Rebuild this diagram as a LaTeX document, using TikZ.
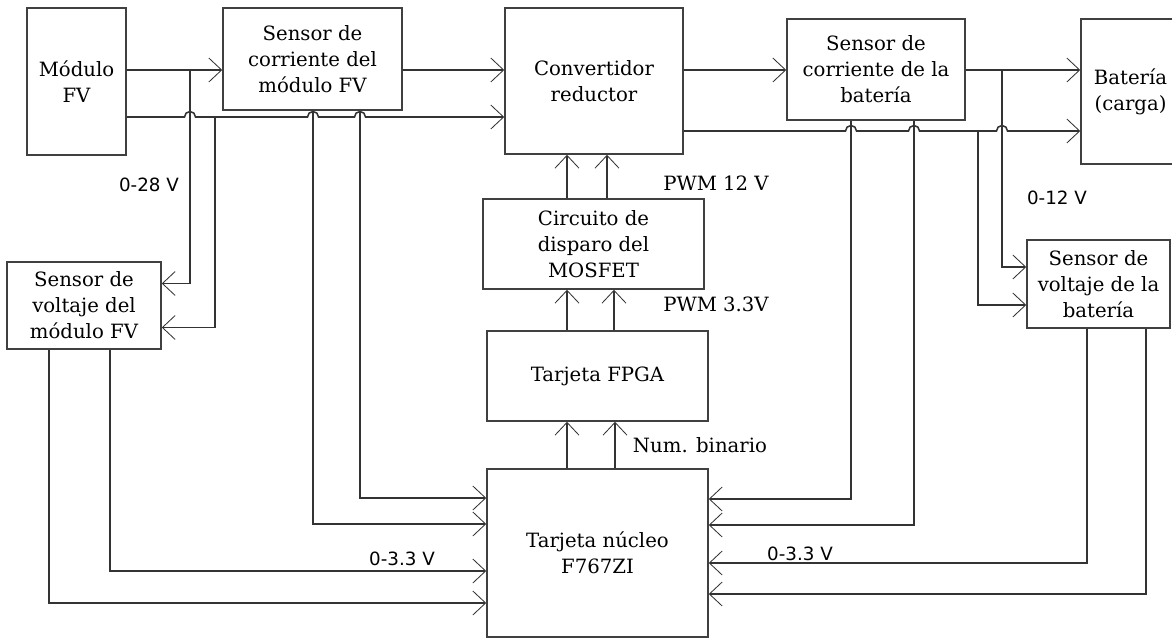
\documentclass[tikz,border=0pt]{standalone}
\usepackage{fontspec}
\setmainfont{DejaVu Serif}
\newfontfamily\lblsans{DejaVu Sans}
\usetikzlibrary{arrows.meta, calc}

\begin{document}
\begin{tikzpicture}[
  x=0.025cm, y=-0.025cm,
  blk/.style 2 args={
    rectangle, draw=black!75, line width=1.1pt,
    minimum width=#1*0.025cm, minimum height=#2*0.025cm,
    font=\fontsize{14}{18.5}\selectfont, align=center, inner sep=1pt
  },
  wire/.style={line width=1.1pt, color=black!80},
  arr/.style={wire, -{Straight Barb[length=3.2mm, width=6mm, line width=0.6pt]}},
  lbl/.style={font=\fontsize{14}{16}\selectfont, inner sep=0pt},
  vlbl/.style={font=\lblsans\fontsize{13}{15}\selectfont, inner sep=0pt},
]
\path[use as bounding box, fill=white] (0,0) rectangle (1172,638);

% Blocks
\node[blk={99}{147}] (modfv) at (76.5,81.5) {Módulo\\FV};
\node[blk={179}{102}] (senfv) at (312.5,59) {Sensor de\\corriente del\\módulo FV};
\node[blk={178}{146}] (conv) at (594,81) {Convertidor\\reductor};
\node[blk={178}{101}] (senbat) at (876,69.5) {Sensor de\\corriente de la\\batería};
\node[blk={99}{145}] (bat) at (1130.5,91.5) {Batería\\(carga)};
\node[blk={221}{90}] (disparo) at (593.5,244) {Circuito de\\disparo del\\MOSFET};
\node[blk={221}{90}] (fpga) at (597.5,376) {Tarjeta FPGA};
\node[blk={221}{168}] (nucleo) at (597.5,553) {Tarjeta núcleo\\F767ZI};
\node[blk={154}{87}] (svfv) at (84,305.5) {Sensor de\\voltaje del\\módulo FV};
\node[blk={143}{88}] (svbat) at (1098.5,284) {Sensor de\\voltaje de la\\batería};

% Rows and junctions
\coordinate (rowT) at (0,70);
\coordinate (rowL) at (0,117);
\coordinate (rowR) at (0,131);
\coordinate (jT) at (190,70);
\coordinate (jL) at (215,117);
\coordinate (kT) at (1002,70);
\coordinate (kR) at (978,131);

% Power path, left
\draw[arr] (modfv.east |- rowT) -- (senfv.west |- rowT);
\draw[arr] (senfv.east |- rowT) -- (conv.west |- rowT);
\draw[arr] (modfv.east |- rowL)
  -- ($(jT |- rowL)+(-5.5,0)$) arc[start angle=180, end angle=360, radius=5.5]
  -- ($(senfv.south |- rowL)+(-5,0)$) arc[start angle=180, end angle=360, radius=5.5]
  -- ($(senfv.south |- rowL)+(42,0)$) arc[start angle=180, end angle=360, radius=5.5]
  -- (conv.west |- rowL);
\draw[arr] (jT) |- ($(svfv.east)+(0,-22)$);
\draw[arr] (jL) |- ($(svfv.east)+(0,22)$);

% Power path, right
\draw[arr] (conv.east |- rowT) -- (senbat.west |- rowT);
\draw[arr] (senbat.east |- rowT) -- (bat.west |- rowT);
\draw[arr] (conv.east |- rowR)
  -- ($(senbat.south |- rowR)+(-30.5,0)$) arc[start angle=180, end angle=360, radius=5.5]
  -- ($(senbat.south |- rowR)+(32.5,0)$) arc[start angle=180, end angle=360, radius=5.5]
  -- ($(kT |- rowR)+(-5.5,0)$) arc[start angle=180, end angle=360, radius=5.5]
  -- (bat.west |- rowR);
\draw[arr] (kT) |- ($(svbat.west)+(0,-17)$);
\draw[arr] (kR) |- ($(svbat.west)+(0,21)$);

% Sensor signals to the core board
\draw[arr] ($(senfv.south)+(0.5,0)$) |- ($(nucleo.west)+(0,-29)$);
\draw[arr] ($(senfv.south)+(47.5,0)$) |- ($(nucleo.west)+(0,-55)$);
\draw[arr] ($(svfv.south)+(26,0)$) |- ($(nucleo.west)+(0,18)$);
\draw[arr] ($(svfv.south)+(-35,0)$) |- ($(nucleo.west)+(0,50)$);
\draw[arr] ($(senbat.south)+(-25,0)$) |- ($(nucleo.east)+(0,-54)$);
\draw[arr] ($(senbat.south)+(38,0)$) |- ($(nucleo.east)+(0,-28)$);
\draw[arr] ($(svbat.south)+(-11.5,0)$) |- ($(nucleo.east)+(0,10)$);
\draw[arr] ($(svbat.south)+(47.5,0)$) |- ($(nucleo.east)+(0,41)$);

% Control chain
\foreach \dx in {-26.5,13.5}
  \draw[arr] ($(disparo.north)+(\dx,0)$) coordinate (p) -- (p |- conv.south);
\foreach \dx in {-30.5,16.5}
  \draw[arr] ($(fpga.north)+(\dx,0)$) coordinate (p) -- (p |- disparo.south);
\foreach \dx in {-30.5,17.5}
  \draw[arr] ($(nucleo.north)+(\dx,0)$) coordinate (p) -- (p |- fpga.south);

% Labels
\node[vlbl] (v28) at (149,185) {0-28 V};
\node[vlbl] (v12) at (1057,198) {0-12 V};
\node[lbl] (pwm12) at (716,183) {PWM 12 V};
\node[lbl] (pwm33) at (716,304) {PWM 3.3V};
\node[lbl] (numbin) at (700,445) {Num. binario};
\node[vlbl] (v33a) at (402,559) {0-3.3 V};
\node[vlbl] (v33b) at (800,554) {0-3.3 V};

\end{tikzpicture}
\end{document}
